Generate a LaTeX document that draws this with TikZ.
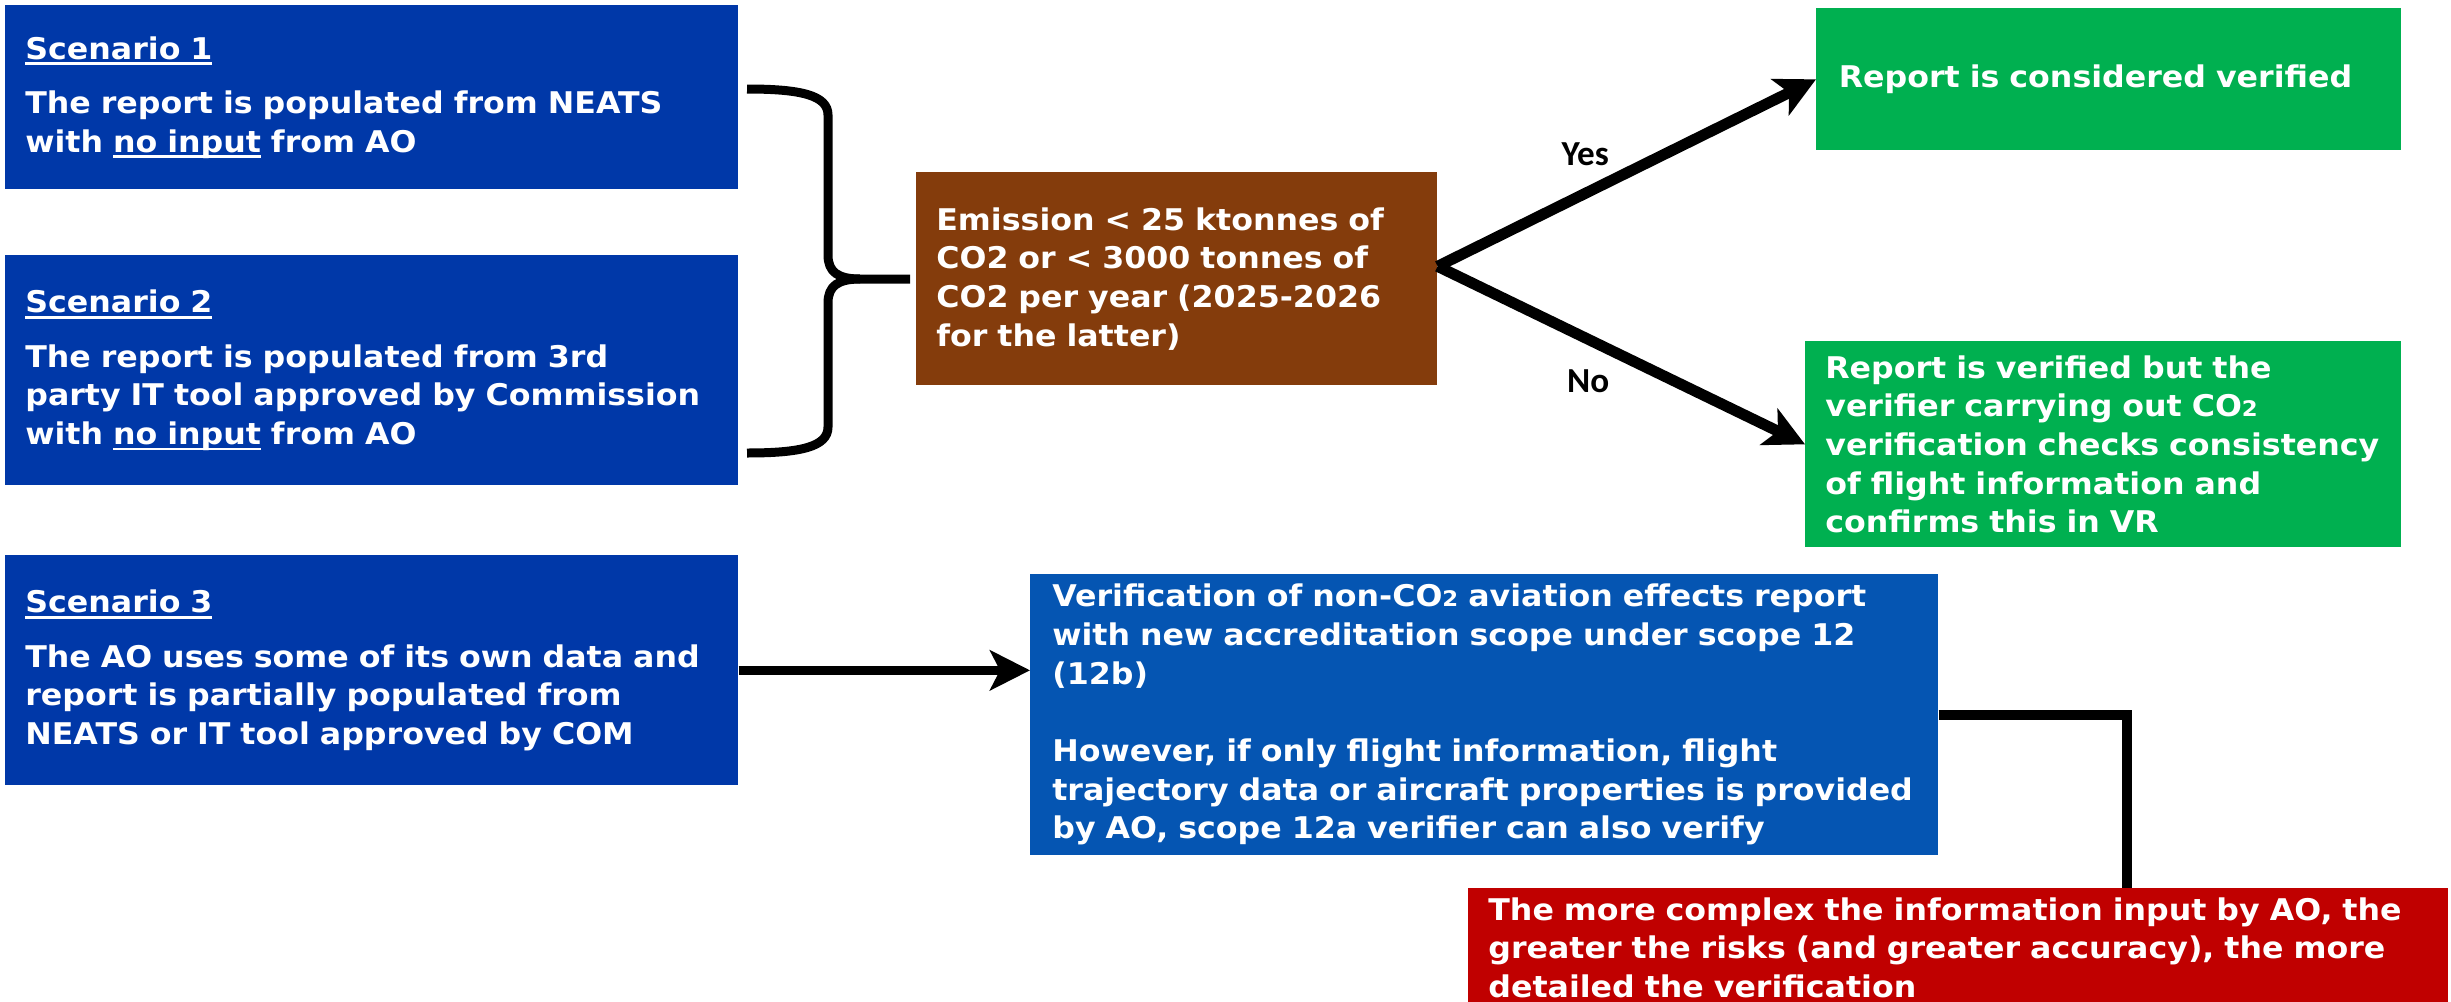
\documentclass[tikz,border=0pt]{standalone}
\usepackage{fontspec}
\setmainfont{DejaVu Sans}[FakeStretch=1.06]
\newfontfamily\labelfamily{Carlito}
\usetikzlibrary{arrows.meta}

\definecolor{scenblue}{RGB}{0,56,168}
\definecolor{verifblue}{RGB}{5,85,178}
\definecolor{emisbrown}{RGB}{132,60,12}
\definecolor{okgreen}{RGB}{0,176,80}
\definecolor{riskred}{RGB}{192,0,0}

\newcommand{\boxtext}{\fontsize{17}{22}\selectfont\bfseries}
\newcommand{\cotwo}{CO\scalebox{0.72}{2}}
\newcommand{\ulbold}[1]{\setbox0\hbox{#1}\rlap{\rule[-3.4pt]{\wd0}{1.6pt}}\box0\relax}

\begin{document}
\begin{tikzpicture}[x=0.02cm, y=-0.02cm,
    box/.style={fill=#1, text=white, font=\boxtext, align=left, anchor=north west, inner xsep=0.4cm, inner ysep=0pt},
    flow/.style={line width=0.22cm, -{Stealth[length=0.8cm, width=0.8cm, inset=0.2cm]}},
    bracket/.style={line width=0.18cm},
    yesno/.style={font=\labelfamily\fontsize{20}{24}\selectfont\bfseries}]
      \useasboundingbox (0,0) rectangle (2451,1001);
      \clip (0,0) rectangle (2451,1001);
      \node[box=scenblue, text width=13.86cm, minimum height=3.68cm] (scen1) at (5,5)
        {\ulbold{Scenario 1}\\[9pt] The report is populated from NEATS\\ with \ulbold{no input} from AO};
      \node[box=scenblue, text width=13.86cm, minimum height=4.6cm] (scen2) at (5,255)
        {\ulbold{Scenario 2}\\[9pt] The report is populated from 3rd\\ party IT tool approved by Commission\\ with \ulbold{no input} from AO};
      \node[box=scenblue, text width=13.86cm, minimum height=4.6cm] (scen3) at (5,555)
        {\ulbold{Scenario 3}\\[9pt] The AO uses some of its own data and\\ report is partially populated from\\ NEATS or IT tool approved by COM};
      \node[box=emisbrown, text width=9.62cm, minimum height=4.26cm] (emis) at (916,172)
        {Emission < 25 ktonnes of\\ CO2 or < 3000 tonnes of\\ CO2 per year (2025-2026\\ for the latter)};
      \node[box=okgreen, inner xsep=0.45cm, text width=10.8cm, minimum height=2.84cm] (verified) at (1816,8)
        {Report is considered verified};
      \node[box=okgreen, text width=11.12cm, minimum height=4.12cm] (checked) at (1805,341)
        {Report is verified but the\\ verifier carrying out \cotwo\\ verification checks consistency\\ of flight information and\\ confirms this in VR};
      \node[box=verifblue, inner xsep=0.44cm, text width=17.28cm, minimum height=5.62cm] (verif) at (1030,574)
        {Verification of non-\cotwo\ aviation effects report\\ with new accreditation scope under scope 12\\ (12b)\\[22pt] However, if only flight information, flight\\ trajectory data or aircraft properties is provided\\ by AO, scope 12a verifier can also verify};
      \node[box=riskred, text width=18.8cm, inner ysep=0.18cm] (risk) at (1468,888)
        {The more complex the information input by AO, the\\ greater the risks (and greater accuracy), the more\\ detailed the verification};
      \draw[bracket] (747,89) .. controls (800,89) and (828,95) .. (828,115) -- (828,255)
        .. controls (828,272) and (838,279) .. (860,279) -- (910,279);
      \draw[bracket] (747,453) .. controls (800,453) and (828,447) .. (828,427) -- (828,303)
        .. controls (828,286) and (838,279) .. (860,279);
      \coordinate (fork) at ([yshift=0.25cm]emis.east);
      \draw[flow] (fork) -- (verified.west) node[yesno, pos=0.39, above=9pt] {Yes};
      \draw[flow] (fork) -- (checked.west) node[yesno, pos=0.41, below=11pt] {No};
      \draw[flow, line width=0.19cm] (scen3.east) -- (scen3.east -| verif.west);
      \draw[line width=0.2cm] (verif.east) -| ([xshift=3.38cm]risk.north);
    \end{tikzpicture}
\end{document}
